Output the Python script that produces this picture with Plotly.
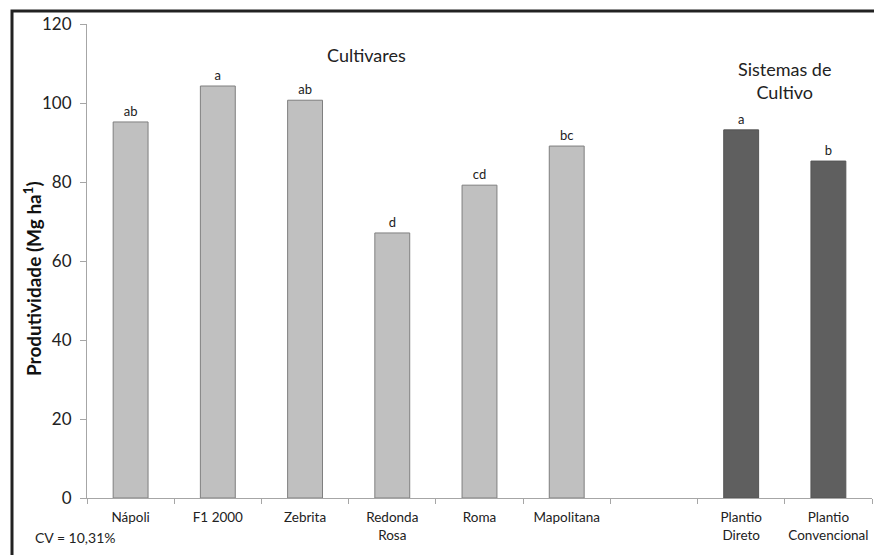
import plotly.graph_objects as go

categories = ["Nápoli", "F1 2000", "Zebrita", "Redonda<br>Rosa", "Roma", "Mapolitana", " ",
              "Plantio<br>Direto", "Plantio<br>Convencional"]
cultivar_names = ["Nápoli", "F1 2000", "Zebrita", "Redonda<br>Rosa", "Roma", "Mapolitana"]
cultivar_values = [95.2, 104.3, 100.7, 67.1, 79.2, 89.1]
cultivar_letters = ["ab", "a", "ab", "d", "cd", "bc"]
system_names = ["Plantio<br>Direto", "Plantio<br>Convencional"]
system_values = [93.2, 85.3]
system_letters = ["a", "b"]
y_ticks = [0, 20, 40, 60, 80, 100, 120]

FONT = "Lato, 'Open Sans', sans-serif"

# plot area is 785 x 474 px
W, H = 874, 555
L, R, T, B = 87, 2, 24, 57
PW, PH = W - L - R, H - T - B


def px(xw):  # window x -> paper
    return (xw - L) / PW


def py(yw):  # window y -> paper
    return (H - B - yw) / PH


fig = go.Figure()
fig.add_trace(go.Bar(
    x=cultivar_names, y=cultivar_values, text=cultivar_letters,
    textposition="outside", cliponaxis=False, width=0.4,
    marker=dict(color="#C0C0C0", line=dict(color="#7F7F7F", width=1)),
    textfont=dict(size=13, color="#222", family=FONT), showlegend=False,
))
fig.add_trace(go.Bar(
    x=system_names, y=system_values, text=system_letters,
    textposition="outside", cliponaxis=False, width=0.4,
    marker=dict(color="#5F5F5F", line=dict(color="#555555", width=1)),
    textfont=dict(size=13, color="#222", family=FONT), showlegend=False,
))

fig.update_layout(
    width=W, height=H,
    margin=dict(l=L, r=R, t=T, b=B),
    paper_bgcolor="white", plot_bgcolor="white",
    barmode="overlay",
    font=dict(family=FONT, color="#222"),
    xaxis=dict(
        type="category", categoryorder="array", categoryarray=categories,
        range=[-0.5, len(categories) - 0.5],
        showline=True, linecolor="#A6A6A6", linewidth=1,
        ticks="outside", tickson="boundaries", ticklen=5, tickcolor="#A6A6A6",
        ticklabelstandoff=7,
        tickfont=dict(size=13.5, family=FONT, color="#222"),
        tickangle=0, automargin=False,
        showgrid=False, fixedrange=True,
    ),
    yaxis=dict(
        range=[0, 120], tickvals=y_ticks,
        showline=True, linecolor="#A6A6A6", linewidth=1,
        ticks="outside", ticklen=6, tickcolor="#A6A6A6",
        ticklabelstandoff=5, automargin=False,
        tickfont=dict(size=17, family=FONT, color="#222"),
        showgrid=False, zeroline=False,
    ),
    shapes=[dict(type="rect", xref="paper", yref="paper",
                 x0=px(12), x1=1.05, y0=-0.2, y1=py(11),
                 line=dict(color="#222", width=3), fillcolor="rgba(0,0,0,0)", layer="above")],
    annotations=[
        dict(text="<b>Produtividade (Mg ha<sup>1</sup>)</b>", x=px(32), y=py(279),
             xref="paper", yref="paper", textangle=-90, xanchor="center", yanchor="middle",
             showarrow=False, font=dict(size=19, family=FONT, color="#111")),
        dict(text="Cultivares", x=px(366), y=py(55), xref="paper", yref="paper",
             xanchor="center", yanchor="middle",
             showarrow=False, font=dict(size=18, family=FONT, color="#222")),
        dict(text="Sistemas de<br>Cultivo", x=px(784), y=py(81), xref="paper", yref="paper",
             xanchor="center", yanchor="middle", showarrow=False,
             font=dict(size=18, family=FONT, color="#222")),
        dict(text="CV = 10,31%", x=px(33), y=py(537), xref="paper", yref="paper",
             xanchor="left", yanchor="middle", showarrow=False,
             font=dict(size=14, family=FONT, color="#222")),
    ],
)

fig.write_html("out.html", config={"displayModeBar": False},
               post_script="document.body.style.margin='0';document.body.style.overflow='hidden';")
